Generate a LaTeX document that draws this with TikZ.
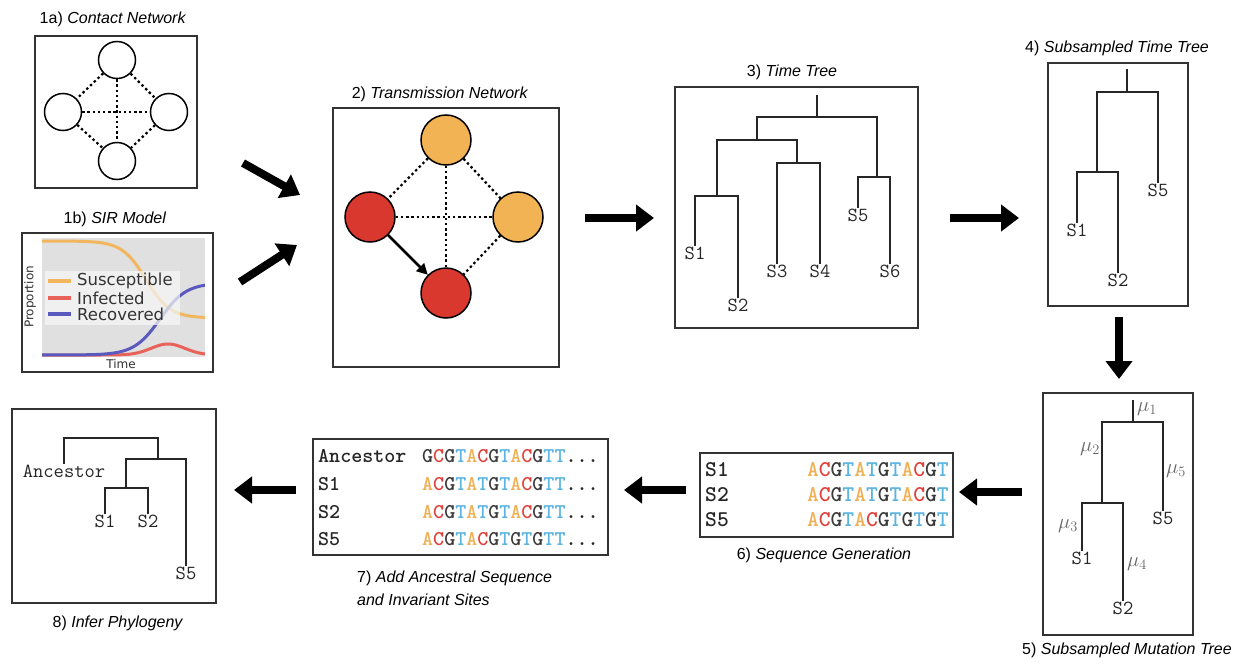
\documentclass[tikz,border=0pt]{standalone}
\usepackage{fontspec}
\setmainfont{Liberation Sans}
\newfontfamily\plotfont{DejaVu Sans}
\usetikzlibrary{arrows.meta,calc,positioning}
\definecolor{susc}{HTML}{F2B75E}
\definecolor{infc}{HTML}{E8625A}
\definecolor{recv}{HTML}{5A5ABE}
\definecolor{hostI}{HTML}{D9382E}
\definecolor{hostS}{HTML}{F2B354}
\definecolor{ntA}{HTML}{F0B055}
\definecolor{ntC}{HTML}{E0403A}
\definecolor{ntG}{HTML}{3A3A3A}
\definecolor{ntT}{HTML}{5BB4E0}
\newcommand{\nA}{\textcolor{ntA}{A}}
\newcommand{\nC}{\textcolor{ntC}{C}}
\newcommand{\nG}{\textcolor{ntG}{G}}
\newcommand{\nT}{\textcolor{ntT}{T}}
\tikzset{panel/.style={draw=black!80,line width=1.6pt,inner sep=0pt},
paneltitle/.style={font=\fontsize{16}{23}\selectfont,inner sep=0pt},
taxon/.style={font=\ttfamily\fontsize{20}{20}\selectfont,inner sep=1pt,text=black!85},
seqrow/.style={font=\ttfamily\bfseries\fontsize{21}{21}\selectfont,inner sep=0pt,text=black!85},
seqbig/.style={seqrow,font=\ttfamily\bfseries\fontsize{22.5}{22.5}\selectfont},
branch/.style={line width=1.8pt,black!85},
dotline/.style={line width=2.2pt,dash pattern=on 2.4pt off 2.8pt},
bigarrow/.style={line width=8pt,-{Triangle[length=18pt,width=26pt]}},
host/.style={circle,draw,line width=1.5pt,inner sep=0pt},
mut/.style={text=black!60,font=\fontsize{21}{21}\selectfont,inner sep=0pt}}

\begin{document}
\begin{tikzpicture}[x=1pt,y=-1pt]
\useasboundingbox (0,0) rectangle (1248,664);

% Panels
\node[panel,minimum width=162pt,minimum height=152pt] (p1a) at (116,112) {};
\node[panel,minimum width=191pt,minimum height=139pt] (p1b) at (117.5,302.5) {};
\node[panel,minimum width=226pt,minimum height=259pt] (p2) at (446,237.5) {};
\node[panel,minimum width=243pt,minimum height=241pt] (p3) at (796.5,207.5) {};
\node[panel,minimum width=140pt,minimum height=243pt] (p4) at (1118,184.5) {};
\node[panel,minimum width=150pt,minimum height=242pt] (p5) at (1118,514) {};
\node[panel,minimum width=253pt,minimum height=84pt] (p6) at (826.5,495) {};
\node[panel,minimum width=295pt,minimum height=116pt] (p7) at (460.5,497) {};
\node[panel,minimum width=204pt,minimum height=194pt] (p8) at (114,506) {};

% Titles
\node[paneltitle,anchor=base] (t1a) at (113,23) {1a) \textit{Contact Network}};
\node[paneltitle,anchor=base] (t1b) at (115,223) {1b) \textit{SIR Model}};
\node[paneltitle,anchor=base] (t2) at (440,98) {2) \textit{Transmission Network}};
\node[paneltitle,anchor=base] (t3) at (792,76) {3) \textit{Time Tree}};
\node[paneltitle,anchor=base] (t4) at (1117,52) {4) \textit{Subsampled Time Tree}};
\node[paneltitle,anchor=base] (t5) at (1127,654) {5) \textit{Subsampled Mutation Tree}};
\node[paneltitle,anchor=base] (t6) at (824,559) {6) \textit{Sequence Generation}};
\node[paneltitle,anchor=base west,align=left] (t7) at (357,605) {7) \textit{Add Ancestral Sequence}\\\textit{and Invariant Sites}};
\node[paneltitle,anchor=base] (t8) at (118,627) {8) \textit{Infer Phylogeny}};

% 1a) contact network
\foreach \n/\x/\y in {t/117/60, l/63/112, r/169/112, b/117/161}
  \node[host,minimum size=37pt] (c1\n) at (\x,\y) {};
\foreach \a/\b in {t/l, t/r, t/b, l/r, l/b, r/b} \draw[dotline] (c1\a) -- (c1\b);

% 1b) SIR model
\fill[black!12] (42,238) rectangle (205,357);
\fill[white,fill opacity=0.45] (45,271) rectangle (180,325);
\begin{scope}
\clip (42,238) rectangle (205,357);
\draw[susc,line width=3pt] plot[domain=42:205,samples=80] (\x,{241+77/(1+exp(-(\x-146)/12))});
\draw[infc,line width=3pt] plot[domain=42:205,samples=80] (\x,{355-11*exp(-((\x-168)/24)^2)});
\draw[recv,line width=3pt] plot[domain=42:205,samples=80] (\x,{355-72/(1+exp(-(\x-160)/13))});
\end{scope}
\fill[black!5,fill opacity=0.75] (45,271) rectangle (180,325);
\foreach \c/\t/\y in {susc/Susceptible/281, infc/Infected/298, recv/Recovered/314}{
  \draw[\c,line width=3.5pt] (48,\y) -- (71,\y);
  \node[anchor=west,inner sep=0pt,font=\plotfont\fontsize{16.5}{16.5}\selectfont,text=black!80] (leg\c) at (77,\y) {\t};
}
\node[rotate=90,inner sep=0pt,font=\plotfont\fontsize{12}{12}\selectfont,text=black!80] (ylab) at (30,297) {Proportion};
\node[inner sep=0pt,font=\plotfont\fontsize{12}{12}\selectfont,text=black!80] (xlab) at (121,364) {Time};

% 2) transmission network
\node[host,fill=hostS,minimum size=50pt] (c2t) at (446,140) {};
\node[host,fill=hostI,minimum size=50pt] (c2l) at (370,217) {};
\node[host,fill=hostS,minimum size=50pt] (c2r) at (518,217) {};
\node[host,fill=hostI,minimum size=50pt] (c2b) at (446,293) {};
\foreach \a/\b in {t/l, t/r, t/b, l/r, r/b} \draw[dotline] (c2\a) -- (c2\b);
\draw[line width=2.5pt,-{Triangle[length=11pt,width=11pt]}] (c2l) -- (c2b);

% 3) time tree
\coordinate (t3root) at (817,95);
\coordinate (t3n0) at (817,117);
\coordinate (t3n1) at (757,140);
\coordinate (t3n2) at (717,196);
\coordinate (t3n3) at (797,163);
\coordinate (t3n4) at (877,177);
\node[taxon,anchor=north] (t3s1) at (695,246) {S1};
\node[taxon,anchor=north] (t3s2) at (738,298) {S2};
\node[taxon,anchor=north] (t3s3) at (777,264) {S3};
\node[taxon,anchor=north] (t3s4) at (820,264) {S4};
\node[taxon,anchor=north] (t3s5) at (858,208) {S5};
\node[taxon,anchor=north] (t3s6) at (890,264) {S6};
\draw[branch] (t3root) -- (t3n0);
\draw[branch] (t3n1) |- (t3n0) -| (t3n4);
\draw[branch] (t3n2) |- (t3n1) -| (t3n3);
\draw[branch] (t3s1.north) |- (t3n2) -| (t3s2.north);
\draw[branch] (t3s3.north) |- (t3n3) -| (t3s4.north);
\draw[branch] (t3s5.north) |- (t3n4) -| (t3s6.north);

% 4) subsampled time tree
\coordinate (t4root) at (1127,69);
\coordinate (t4n0) at (1127,92);
\coordinate (t4n1) at (1097,172);
\node[taxon,anchor=north] (t4s1) at (1077,223) {S1};
\node[taxon,anchor=north] (t4s2) at (1118,273) {S2};
\node[taxon,anchor=north] (t4s5) at (1158,183) {S5};
\draw[branch] (t4root) -- (t4n0);
\draw[branch] (t4n1) |- (t4n0) -| (t4s5.north);
\draw[branch] (t4s1.north) |- (t4n1) -| (t4s2.north);

% 5) subsampled mutation tree
\coordinate (t5root) at (1133,400);
\coordinate (t5n0) at (1133,422);
\coordinate (t5n1) at (1102,503);
\node[taxon,anchor=north] (t5s1) at (1082,551) {S1};
\node[taxon,anchor=north] (t5s2) at (1123,601) {S2};
\node[taxon,anchor=north] (t5s5) at (1163,511) {S5};
\draw[branch] (t5root) -- (t5n0);
\draw[branch] (t5n1) |- (t5n0) -| (t5s5.north);
\draw[branch] (t5s1.north) |- (t5n1) -| (t5s2.north);
\node[mut] (mu1) at (1147,409) {$\mu_1$};
\node[mut] (mu2) at (1090,449) {$\mu_2$};
\node[mut] (mu5) at (1176,471) {$\mu_5$};
\node[mut] (mu3) at (1068,526) {$\mu_3$};
\node[mut] (mu4) at (1137,564) {$\mu_4$};

% 6) sequence generation
\node[seqbig,anchor=base west] (r6s1) at (705,476) {S1};
\node[seqbig,anchor=base west] (r6s2) at (705,501) {S2};
\node[seqbig,anchor=base west] (r6s5) at (705,526) {S5};
\node[seqbig,anchor=base east] (q6s1) at (949,476) {\nA\nC\nG\nT\nA\nT\nG\nT\nA\nC\nG\nT};
\node[seqbig,anchor=base east] (q6s2) at (949,501) {\nA\nC\nG\nT\nA\nT\nG\nT\nA\nC\nG\nT};
\node[seqbig,anchor=base east] (q6s5) at (949,526) {\nA\nC\nG\nT\nA\nC\nG\nT\nG\nT\nG\nT};

% 7) ancestral sequence and invariant sites
\node[seqrow,anchor=base west] (r7an) at (318,462) {Ancestor};
\node[seqrow,anchor=base west] (r7s1) at (318,490) {S1};
\node[seqrow,anchor=base west] (r7s2) at (318,518) {S2};
\node[seqrow,anchor=base west] (r7s5) at (318,545) {S5};
\node[seqrow,anchor=base west] (q7an) at (422,462) {\nG\nC\nG\nT\nA\nC\nG\nT\nA\nC\nG\nT\nT...};
\node[seqrow,anchor=base west] (q7s1) at (422,490) {\nA\nC\nG\nT\nA\nT\nG\nT\nA\nC\nG\nT\nT...};
\node[seqrow,anchor=base west] (q7s2) at (422,518) {\nA\nC\nG\nT\nA\nT\nG\nT\nA\nC\nG\nT\nT...};
\node[seqrow,anchor=base west] (q7s5) at (422,545) {\nA\nC\nG\nT\nA\nC\nG\nT\nG\nT\nG\nT\nT...};

% 8) inferred phylogeny
\coordinate (t8n0) at (158,438);
\coordinate (t8n1) at (158,459);
\coordinate (t8n2) at (126,488);
\node[taxon,anchor=north] (t8an) at (64,464) {Ancestor};
\node[taxon,anchor=north] (t8s1) at (105,514) {S1};
\node[taxon,anchor=north] (t8s2) at (148,514) {S2};
\node[taxon,anchor=north] (t8s5) at (186,566) {S5};
\draw[branch] (t8an.north) |- (t8n0) -- (t8n1);
\draw[branch] (t8n2) |- (t8n1) -| (t8s5.north);
\draw[branch] (t8s1.north) |- (t8n2) -| (t8s2.north);

% Arrows between steps
\coordinate (a1s) at (243,163); \coordinate (a1e) at (300,195);
\coordinate (a2s) at (240,282); \coordinate (a2e) at (297,245);
\coordinate (a3s) at (585,218); \coordinate (a3e) at (654,218);
\coordinate (a4s) at (950,218); \coordinate (a4e) at (1019,218);
\coordinate (a5s) at (1119,317); \coordinate (a5e) at (1119,379);
\coordinate (a6s) at (1022,492); \coordinate (a6e) at (959,492);
\coordinate (a7s) at (686,490); \coordinate (a7e) at (624,490);
\coordinate (a8s) at (296,490); \coordinate (a8e) at (234,490);
\foreach \i in {1,...,8} \draw[bigarrow] (a\i s) -- (a\i e);

\end{tikzpicture}
\end{document}
